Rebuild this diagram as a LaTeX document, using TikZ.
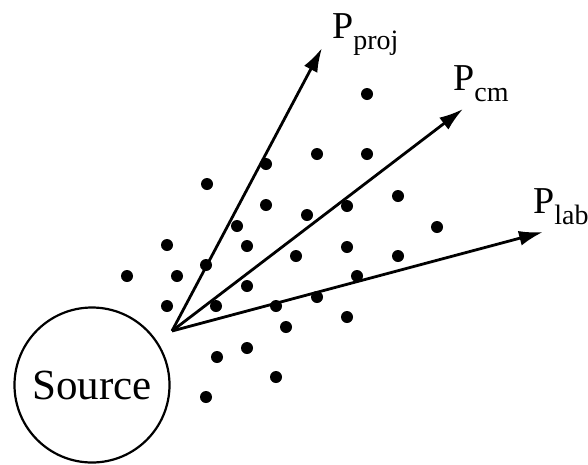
\documentclass[tikz,border=0pt]{standalone}
\usepackage{fontspec}
\setmainfont{Liberation Serif}
\usepackage{tikz}
\usetikzlibrary{arrows.meta}
\newcommand{\momlabel}[1]{P\raisebox{-11pt}{\fontsize{28}{28}\selectfont #1}}

\begin{document}
\begin{tikzpicture}[
  x=1pt, y=-1pt,
  particle/.style={fill=black},
  momentum/.style={-{Latex[length=24pt,width=15pt]}, line width=2.8pt},
  srcbox/.style={draw, circle, line width=2.2pt, minimum size=155pt,
                 inner sep=0pt, font=\fontsize{43}{46}\selectfont},
  plabel/.style={anchor=base west, inner sep=0pt, font=\fontsize{38}{42}\selectfont}
]
\useasboundingbox (0,0) rectangle (588,464);

\node[srcbox] (source) at (92,385) {Source};

% emitted particles
\foreach \px/\py in {367/94, 266/164, 317/154, 367/154, 207/184, 266/205,
    307/215, 347/206, 398/196, 237/226, 167/245, 247/246, 347/247, 437/227,
    206/265, 296/256, 398/256, 127/276, 177/276, 357/276, 247/286, 317/297,
    167/306, 216/306, 276/306, 286/327, 347/317, 217/357, 247/348, 276/377,
    206/397}
  \fill[particle] (\px,\py) circle (6pt);

\coordinate (orig) at (172,331);
\coordinate (tipproj) at (322,48);
\coordinate (tipcm) at (463,109);
\coordinate (tiplab) at (543,232);

\draw[momentum] (orig) -- (tipproj);
\draw[momentum] (orig) -- (tipcm);
\draw[momentum] (orig) -- (tiplab);

\node[plabel] (pproj) at (332,38) {\momlabel{proj}};
\node[plabel] (pcm) at (453,90) {\momlabel{cm}};
\node[plabel] (plab) at (533,213) {\momlabel{lab}};
\end{tikzpicture}
\end{document}
